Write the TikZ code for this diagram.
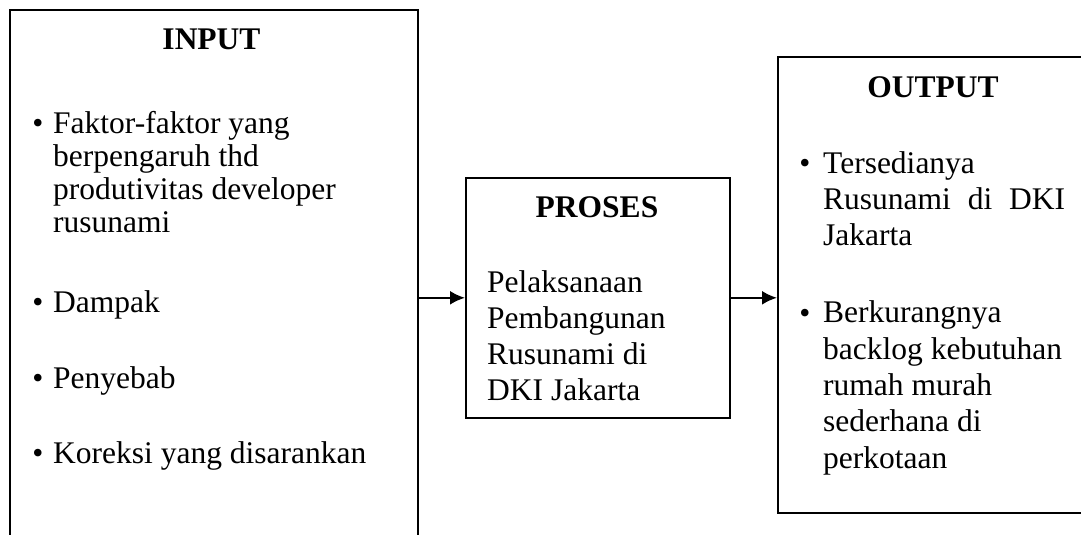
\documentclass[tikz,border=0pt]{standalone}
\usepackage{fontspec}
\setmainfont{Liberation Serif}
\usetikzlibrary{arrows.meta}
\tikzset{
  box/.style={draw,line width=1.6pt,anchor=north west,inner sep=0pt},
  head/.style={font=\fontsize{31.5}{36}\selectfont\bfseries,anchor=base,inner sep=0pt},
  item/.style={font=\fontsize{31.5}{36}\selectfont,align=left,anchor=base west,inner sep=0pt},
  dot/.style={font=\fontsize{31.5}{36}\selectfont,anchor=base,inner sep=0pt},
}
\begin{document}
\begin{tikzpicture}[x=1pt,y=-1pt,>={Latex[length=15pt,width=14pt]}]
\useasboundingbox (0,0) rectangle (1081,535);
\clip (0,0) rectangle (1081,535);
%%
\node (input) at (9,9) [box,minimum width=408pt,minimum height=560pt] {};
  \node (proses) at (465,177) [box,minimum width=264pt,minimum height=240pt] {};
  \node (output) at (777,56) [box,minimum width=330pt,minimum height=456pt] {};
%
% multi-line items sit on the baseline of their last line
\node (input_title) at (211.5,50) [head] {INPUT};
  \node (input_dot1) at (38,133) [dot] {•};
  \node (input_item1) at (53,232) [item,font=\fontsize{31.5}{33}\selectfont] {Faktor-faktor yang\\berpengaruh thd\\produtivitas developer\\rusunami};
  \node (input_dot2) at (38,312) [dot] {•};
  \node (input_item2) at (53,312) [item] {Dampak};
  \node (input_dot3) at (38,388) [dot] {•};
  \node (input_item3) at (53,388) [item] {Penyebab};
  \node (input_dot4) at (38,463) [dot] {•};
  \node (input_item4) at (53,463) [item] {Koreksi yang disarankan};
%
\node (proses_title) at (597,217) [head] {PROSES};
  \node (proses_item) at (487,400) [item] {Pelaksanaan\\Pembangunan\\Rusunami di\\DKI Jakarta};
%
\node (output_title) at (933,97) [head] {OUTPUT};
  \node (output_dot1) at (805,173) [dot] {•};
  \node (output_item1) at (823,245) [item] {Tersedianya\\\makebox[242pt][s]{Rusunami di DKI}\\Jakarta};
  \node (output_dot2) at (805,323) [dot] {•};
  \node (output_item2) at (823,468) [item,font=\fontsize{31.5}{36.3}\selectfont] {Berkurangnya\\backlog kebutuhan\\rumah murah\\sederhana di\\perkotaan};
%
\draw [black,->,line width=2.2pt] (input.east |- proses.west) -- (proses.west);
  \draw [black,->,line width=2.2pt] (proses.east) -- (proses.east -| output.west);
%
\end{tikzpicture}
\end{document}
